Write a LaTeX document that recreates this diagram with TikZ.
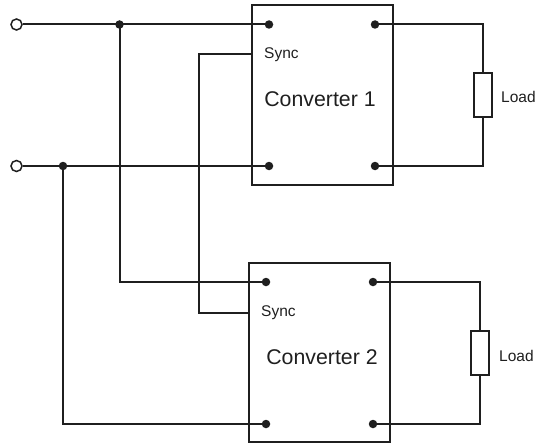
\documentclass[tikz,border=0pt]{standalone}
\usepackage{fontspec}
\setmainfont{Liberation Sans}
\begin{document}
\begin{tikzpicture}[x=1pt,y=-1pt,
  wire/.style={line width=2pt,color=black!88},
  dot/.style={circle,fill=black!88,inner sep=0pt,minimum size=8.5pt},
  term/.style={circle,draw=black!88,line width=1.5pt,fill=white,inner sep=0pt,minimum size=11pt},
  conv/.style={draw=black!88,line width=2pt,rectangle,inner sep=0pt},
  res/.style={draw=black!88,line width=1.8pt,fill=white,rectangle,inner sep=0pt,minimum width=18pt,minimum height=44pt},
  small/.style={font=\fontsize{15.5}{18}\selectfont,text=black!88},
  big/.style={font=\fontsize{21.3}{25}\selectfont,text=black!88}]
\useasboundingbox (0,0) rectangle (536,444);
% converter boxes
\draw[conv] (252,5) rectangle (393,185);
\draw[conv] (249,263) rectangle (390,442);
\coordinate (b1w) at (252,54);
\coordinate (b2w) at (249,313);
% labels
\node[small,anchor=west,inner sep=0pt] (s1) at (264,55) {Sync};
\node[big] (t1) at (320,99) {Converter 1};
\node[small,anchor=west,inner sep=0pt] (s2) at (261,313) {Sync};
\node[big] (t2) at (322,357) {Converter 2};
% terminals
\node[term] (in1) at (16.5,24.5) {};
\node[term] (in2) at (16.5,166) {};
\node[dot] (j1) at (119.5,24.5) {};
\node[dot] (j2) at (63,166) {};
\node[dot] (a1) at (269,24.5) {};
\node[dot] (a2) at (375,24.5) {};
\node[dot] (a3) at (269,166) {};
\node[dot] (a4) at (375,166) {};
\node[dot] (c1) at (266,282) {};
\node[dot] (c2) at (373,282) {};
\node[dot] (c3) at (266,424) {};
\node[dot] (c4) at (373,424) {};
% loads
\node[res] (r1) at (483,95) {};
\node[res] (r2) at (480,353) {};
\node[small,anchor=west,inner sep=0pt] (l1) at (501,97) {Load};
\node[small,anchor=west,inner sep=0pt] (l2) at (499,356) {Load};
% wires
\draw[wire] (in1.east) -- (j1.center) -- (a1.center);
\draw[wire] (in2.east) -- (j2.center) -- (a3.center);
\draw[wire] (j1.center) |- (c1.center);
\draw[wire] (j2.center) |- (c3.center);
\draw[wire] (b1w) -- (199,54) |- (b2w);
\draw[wire] (a2.center) -| (r1.north);
\draw[wire] (a4.center) -| (r1.south);
\draw[wire] (c2.center) -| (r2.north);
\draw[wire] (c4.center) -| (r2.south);
\end{tikzpicture}
\end{document}
